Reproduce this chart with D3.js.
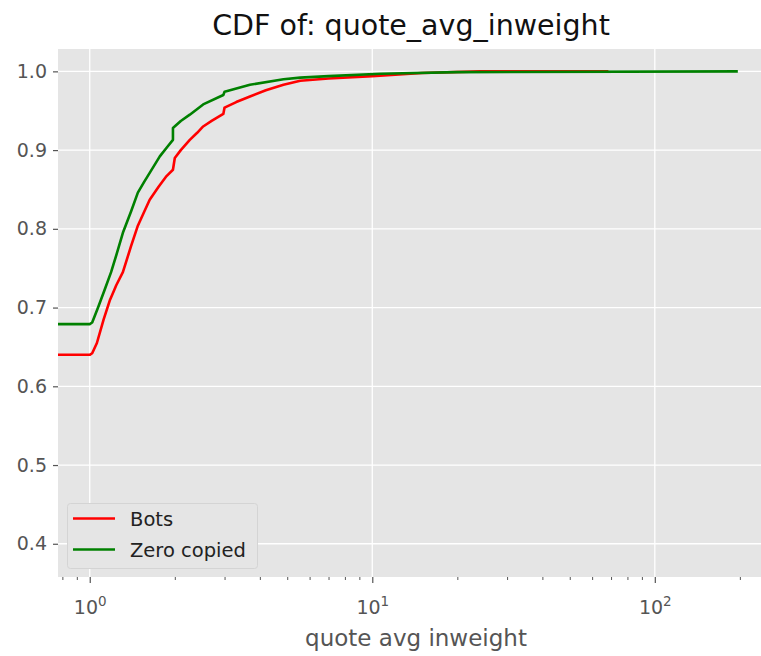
<!DOCTYPE html>
<html><head><meta charset="utf-8">
<script src="https://cdn.jsdelivr.net/npm/d3@7"></script>
<style>body{margin:0;background:#fff}svg{display:block}text{font-family:"DejaVu Sans",sans-serif}</style>
</head><body><div id="chart"></div>
<script>
const title = "CDF of: quote_avg_inweight";
const xLabel = "quote avg inweight";
const seriesNames = ["Bots", "Zero copied"];
const seriesColors = ["#ff0000", "#008000"];
const yTicks = [0.4, 0.5, 0.6, 0.7, 0.8, 0.9, 1.0];
const xMajorTicks = [1, 10, 100];
const xMinorTicks = [0.8, 0.9, 2, 3, 4, 5, 6, 7, 8, 9, 20, 30, 40, 50, 60, 70, 80, 90, 200];

const botsX = [0.7, 1.0, 1.02, 1.06, 1.12, 1.18, 1.22, 1.24, 1.31, 1.40, 1.48, 1.56, 1.63, 1.75, 1.87, 1.97, 2.0, 2.1, 2.26, 2.4, 2.52, 2.7, 2.97, 3.0, 3.3, 3.69, 4.2, 4.85, 5.56, 7, 10, 15, 24, 68.5];
const botsP = [0.640, 0.640, 0.642, 0.655, 0.685, 0.710, 0.722, 0.728, 0.745, 0.778, 0.804, 0.822, 0.837, 0.853, 0.867, 0.875, 0.890, 0.900, 0.913, 0.922, 0.930, 0.937, 0.946, 0.954, 0.961, 0.968, 0.976, 0.983, 0.988, 0.991, 0.994, 0.998, 1.0, 1.0];
const zeroX = [0.7, 1.0, 1.02, 1.07, 1.13, 1.19, 1.25, 1.31, 1.40, 1.48, 1.56, 1.63, 1.77, 1.88, 1.97, 1.97, 2.1, 2.26, 2.52, 2.97, 3.0, 3.69, 4.85, 5.56, 7, 10.7, 20, 196.7];
const zeroP = [0.679, 0.679, 0.681, 0.700, 0.723, 0.745, 0.770, 0.795, 0.822, 0.846, 0.860, 0.871, 0.892, 0.904, 0.913, 0.928, 0.937, 0.945, 0.958, 0.970, 0.974, 0.983, 0.990, 0.992, 0.994, 0.997, 0.999, 1.0];

const W = 761, H = 656;
const m = {left: 58, right: 761, top: 49, bottom: 577};
const svg = d3.select("#chart").append("svg").attr("width", W).attr("height", H);

const x = d3.scaleLog().domain([0.772, 237.6]).range([m.left, m.right]);
const y = d3.scaleLinear().domain([0.3578, 1.0284]).range([m.bottom, m.top]);

svg.append("rect").attr("x", m.left).attr("y", m.top).attr("width", m.right - m.left).attr("height", m.bottom - m.top).attr("fill", "#e5e5e5");

const g = svg.append("g");
g.selectAll(".gy").data(yTicks).join("line").attr("x1", m.left).attr("x2", m.right)
  .attr("y1", d => y(d)).attr("y2", d => y(d)).attr("stroke", "#fff").attr("stroke-width", 1.3);
g.selectAll(".gx").data(xMajorTicks).join("line").attr("y1", m.top).attr("y2", m.bottom)
  .attr("x1", d => x(d)).attr("x2", d => x(d)).attr("stroke", "#fff").attr("stroke-width", 1.3);

const yAxis = d3.axisLeft(y).tickValues(yTicks).tickFormat(d3.format(".1f")).tickSize(5).tickPadding(6);
const ya = svg.append("g").attr("transform", `translate(${m.left},0)`).call(yAxis);
ya.select(".domain").remove();
ya.selectAll("line").attr("stroke", "#555").attr("stroke-width", 1.2);
ya.selectAll("text").attr("fill", "#555").style("font-size", "19px").style("font-family", "DejaVu Sans");

const xAxis = d3.axisBottom(x).tickValues(xMajorTicks).tickFormat("").tickSize(6);
const xa = svg.append("g").attr("transform", `translate(0,${m.bottom})`).call(xAxis);
xa.select(".domain").remove();
xa.selectAll("line").attr("stroke", "#555").attr("stroke-width", 1.2);
const xMinor = d3.axisBottom(x).tickValues(xMinorTicks).tickFormat("").tickSize(3);
const xm = svg.append("g").attr("transform", `translate(0,${m.bottom})`).call(xMinor);
xm.select(".domain").remove();
xm.selectAll("line").attr("stroke", "#555").attr("stroke-width", 1);

xa.selectAll(".tick").each(function(d) {
  const t = d3.select(this).append("text").attr("y", 37).attr("text-anchor", "middle")
    .attr("fill", "#555").style("font-size", "19px");
  t.append("tspan").text("10");
  t.append("tspan").attr("dy", -8).style("font-size", "13.5px").text(Math.round(Math.log10(d)));
});

svg.append("clipPath").attr("id", "clip").append("rect").attr("x", m.left).attr("y", m.top)
  .attr("width", m.right - m.left).attr("height", m.bottom - m.top);

const line = d3.line().x(d => x(d[0])).y(d => y(d[1]));
const series = [d3.zip(botsX, botsP), d3.zip(zeroX, zeroP)];
svg.append("g").attr("clip-path", "url(#clip)").selectAll("path").data(series).join("path")
  .attr("d", line).attr("fill", "none").attr("stroke", (d, i) => seriesColors[i])
  .attr("stroke-width", 2.6).attr("stroke-linejoin", "round");

svg.append("text").attr("x", 411).attr("y", 35).attr("text-anchor", "middle").attr("fill", "#111")
  .style("font-size", "28.5px").text(title);
svg.append("text").attr("x", 416).attr("y", 646).attr("text-anchor", "middle").attr("fill", "#555")
  .style("font-size", "23px").text(xLabel);

const lg = svg.append("g");
lg.append("rect").attr("x", 67.5).attr("y", 503.5).attr("width", 190).attr("height", 65).attr("rx", 3)
  .attr("fill", "#e5e5e5").attr("stroke", "#d4d4d4").attr("stroke-width", 1);
seriesNames.forEach((name, i) => {
  const yy = 518.5 + i * 31;
  lg.append("line").attr("x1", 73).attr("x2", 115).attr("y1", yy).attr("y2", yy)
    .attr("stroke", seriesColors[i]).attr("stroke-width", 2.6);
  lg.append("text").attr("x", 130).attr("y", yy + 7).attr("fill", "#222").style("font-size", "19.5px").text(name);
});
</script></body></html>
